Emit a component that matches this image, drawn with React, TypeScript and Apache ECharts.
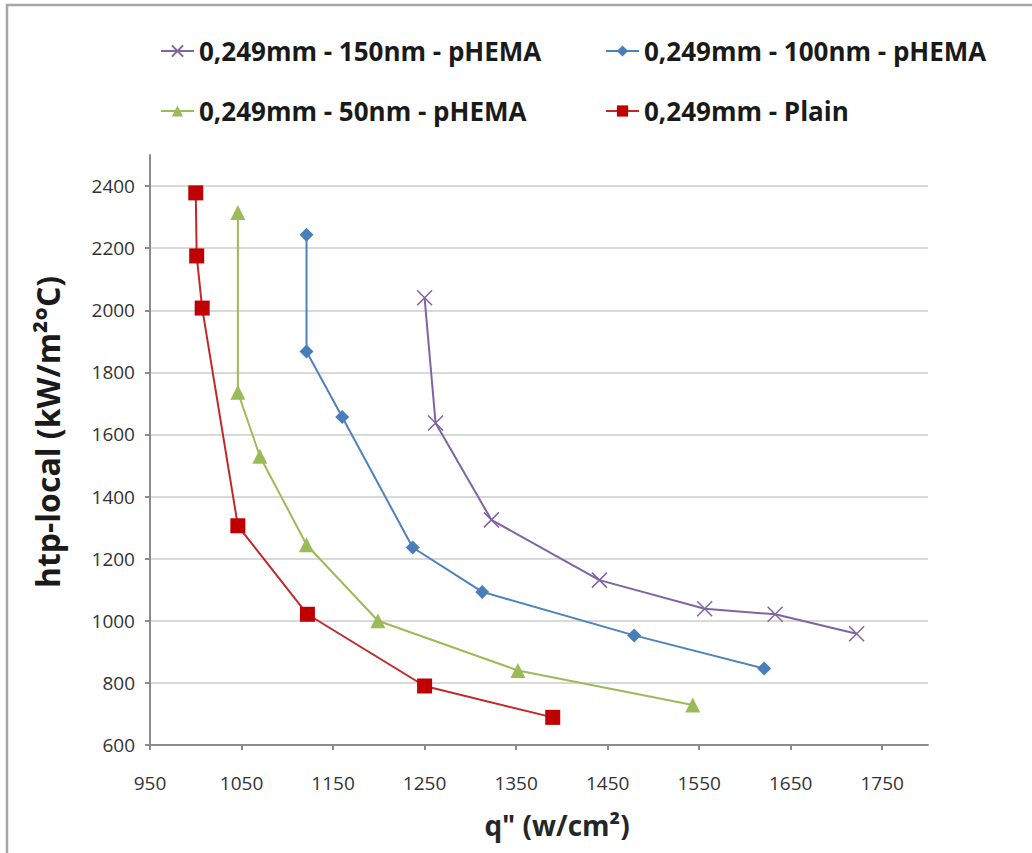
import React, { useEffect, useRef } from "react";
import * as echarts from "echarts";

const seriesNames = [
  "0,249mm - 150nm - pHEMA",
  "0,249mm - 100nm - pHEMA",
  "0,249mm - 50nm - pHEMA",
  "0,249mm - Plain",
];

const purpleX = [1250, 1262, 1323, 1441, 1556, 1633, 1722];
const purpleY = [2040, 1637, 1325, 1131, 1039, 1021, 958];

const blueX = [1121, 1121, 1160, 1237, 1313, 1479, 1621];
const blueY = [2243, 1867, 1656, 1236, 1093, 953, 846];

const greenX = [1046, 1046, 1070, 1121, 1199, 1352, 1543];
const greenY = [2315, 1736, 1530, 1245, 1000, 840, 729];

const redX = [1000, 1001, 1007, 1046, 1122, 1250, 1390];
const redY = [2378, 2175, 2007, 1306, 1021, 790, 689];

const xTitle = 'q" (w/cm²)';
const yTitle = "htp-local (kW/m²°C)";

const FONT = "'Open Sans', 'Noto Sans', sans-serif";

const pair = (xs: number[], ys: number[]) => xs.map((x, i) => [x, ys[i]]);

export default function App() {
  const ref = useRef<HTMLDivElement>(null);
  useEffect(() => {
    if (!ref.current) return;
    const chart = echarts.init(ref.current, undefined, { renderer: "svg" });
    const legendText = {
      fontFamily: FONT,
      fontSize: 26,
      fontWeight: "bold" as const,
      color: "#1a1a1a",
    };
    const mkLegend = (name: string, left: number, top: number) => ({
      data: [name],
      left,
      top,
      itemWidth: 33,
      itemHeight: 14,
      textStyle: legendText,
      selectedMode: false,
    });
    const gridColors = [
      "#d9d9d9", "#d9d9d9", "#d9d9d9", "#d9d9d9", "#d9d9d9", "#d9d9d9",
      "#d9d9d9", "#d9d9d9", "#d9d9d9", "#d9d9d9", "rgba(0,0,0,0)",
    ];
    const plain = (v: number) => String(v);
    chart.setOption({
      animation: false,
      backgroundColor: "#ffffff",
      graphic: [
        {
          type: "rect",
          shape: { x: 7, y: 5, width: 1060, height: 900 },
          style: { fill: "none", stroke: "#a6a6a6", lineWidth: 2.5 },
          silent: true,
        },
      ],
      legend: [
        mkLegend(seriesNames[0], 155, 33),
        mkLegend(seriesNames[1], 600, 33),
        mkLegend(seriesNames[2], 155, 93),
        mkLegend(seriesNames[3], 600, 93),
      ],
      grid: { left: 150, right: 104, top: 155, bottom: 108 },
      xAxis: {
        type: "value",
        min: 950,
        max: 1800,
        interval: 100,
        name: xTitle,
        nameLocation: "middle",
        nameGap: 66,
        nameTextStyle: {
          fontFamily: FONT,
          fontSize: 28,
          fontWeight: "bold",
          color: "#262626",
          padding: [0, 0, 0, 36],
        },
        axisLine: { show: true, lineStyle: { color: "#8c8c8c", width: 2 } },
        axisTick: { show: true, length: 5, lineStyle: { color: "#8c8c8c", width: 2 } },
        axisLabel: {
          margin: 28,
          fontFamily: FONT,
          fontSize: 19,
          color: "#333",
          showMaxLabel: false,
          formatter: plain,
        },
        splitLine: { show: false },
      },
      yAxis: {
        type: "value",
        min: 600,
        max: 2500,
        interval: 200,
        name: yTitle,
        nameLocation: "middle",
        nameGap: 87,
        nameTextStyle: {
          fontFamily: FONT,
          fontSize: 32,
          fontWeight: "bold",
          color: "#1a1a1a",
          padding: [0, 0, 0, 36],
        },
        axisLine: { show: true, lineStyle: { color: "#8c8c8c", width: 2 } },
        axisTick: { show: true, length: 5, lineStyle: { color: "#8c8c8c", width: 2 } },
        axisLabel: {
          margin: 15,
          fontFamily: FONT,
          fontSize: 19,
          color: "#333",
          showMaxLabel: false,
          formatter: plain,
        },
        splitLine: { show: true, lineStyle: { color: gridColors, width: 2 } },
      },
      series: [
        {
          name: seriesNames[0],
          type: "line",
          data: pair(purpleX, purpleY),
          symbol: "path://M0,0L10,10M10,0L0,10",
          symbolSize: 15,
          itemStyle: { color: "#8064A2", borderColor: "#8064A2", borderWidth: 1.5 },
          lineStyle: { color: "#8064A2", width: 2 },
          z: 4,
        },
        {
          name: seriesNames[1],
          type: "line",
          data: pair(blueX, blueY),
          symbol: "diamond",
          symbolSize: 14,
          itemStyle: { color: "#4A7EBB" },
          lineStyle: { color: "#4F81BD", width: 2 },
          z: 3,
        },
        {
          name: seriesNames[2],
          type: "line",
          data: pair(greenX, greenY),
          symbol: "triangle",
          symbolSize: 15,
          itemStyle: { color: "#9BBB59" },
          lineStyle: { color: "#9BBB59", width: 2 },
          z: 2,
        },
        {
          name: seriesNames[3],
          type: "line",
          data: pair(redX, redY),
          symbol: "rect",
          symbolSize: 15,
          itemStyle: { color: "#C00000" },
          lineStyle: { color: "#C0282B", width: 2 },
          z: 1,
        },
      ],
    });
    return () => chart.dispose();
  }, []);
  return (
    <div
      ref={ref}
      style={{ position: "fixed", left: 0, top: 0, width: 1032, height: 853 }}
    />
  );
}
